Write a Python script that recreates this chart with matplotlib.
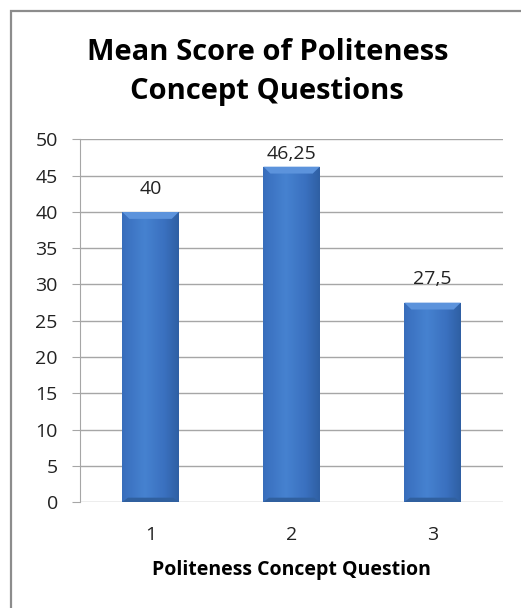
import numpy as np
import matplotlib
matplotlib.use("Agg")
import matplotlib.pyplot as plt
from matplotlib.patches import Rectangle, Polygon

# Dados do gráfico
questions = ["1", "2", "3"]
scores = [40, 46.25, 27.5]
score_labels = ["40", "46,25", "27,5"]
y_ticks = [0, 5, 10, 15, 20, 25, 30, 35, 40, 45, 50]

plt.rcParams['font.family'] = ['Open Sans', 'DejaVu Sans']

fig = plt.figure(figsize=(5.21, 6.08), dpi=100)
ax = fig.add_axes([0.1536, 0.1743, 0.812, 0.5963])

# moldura externa do gráfico
fig.patches.append(Rectangle((11 / 521, -0.1), 1.1, 597 / 608 + 0.1,
                             transform=fig.transFigure, fill=False,
                             edgecolor='#8c8c8c', linewidth=1.6))

x = np.arange(len(questions))
bars = ax.bar(x, scores, width=0.4, color='#3a70bf', zorder=2)

# degradê horizontal nas barras (bordas mais escuras)
grad = np.linspace(0, 1, 64)
shade = 1 - np.abs(grad - 0.4) * 1.4
cmap = matplotlib.colors.LinearSegmentedColormap.from_list(
    'azul', ['#2a5897', '#3a70bf', '#4682d0'])
for b in bars:
    x0, w, h = b.get_x(), b.get_width(), b.get_height()
    img = ax.imshow(shade[np.newaxis, :], cmap=cmap, aspect='auto',
                    extent=[x0, x0 + w, 0, h], zorder=3, vmin=0, vmax=1)
    img.set_clip_path(b)
    # topo chanfrado mais claro
    ax.add_patch(Polygon([(x0, h), (x0 + w, h), (x0 + w - 0.05, h - 0.95),
                          (x0 + 0.05, h - 0.95)], closed=True,
                         facecolor='#5c93dc', edgecolor='none', zorder=4))
    # base levemente mais escura
    ax.add_patch(Polygon([(x0, 0), (x0 + w, 0), (x0 + w - 0.04, 0.6),
                          (x0 + 0.04, 0.6)], closed=True,
                         facecolor='#30609f', edgecolor='none', zorder=4))

for xi, v, lab in zip(x, scores, score_labels):
    ax.text(xi, min(v + 3.2, 48.0), lab, ha='center', va='center',
            fontsize=14, color='#222222')

ax.set_xlim(-0.5, 2.5)
ax.set_ylim(0, 50)
ax.set_yticks(y_ticks)
ax.set_xticks(x)
ax.set_xticklabels(questions)
ax.yaxis.grid(True, color='#a6a6a6', linewidth=1)
ax.set_axisbelow(True)
ax.tick_params(axis='y', labelsize=14, length=6, color='#a6a6a6',
               labelcolor='#222222', pad=10)
ax.tick_params(axis='x', labelsize=14, length=0, pad=17,
               labelcolor='#222222')
for s in ['top', 'right', 'bottom']:
    ax.spines[s].set_visible(False)
ax.spines['left'].set_color('#a6a6a6')

ax.set_xlabel('Politeness Concept Question', fontsize=14, fontweight='bold',
              labelpad=12)
fig.text(0.513, 0.882, 'Mean Score of Politeness\nConcept Questions',
         ha='center', va='center', fontsize=21, fontweight='bold',
         linespacing=1.45)

fig.savefig('out.png', dpi=100)
